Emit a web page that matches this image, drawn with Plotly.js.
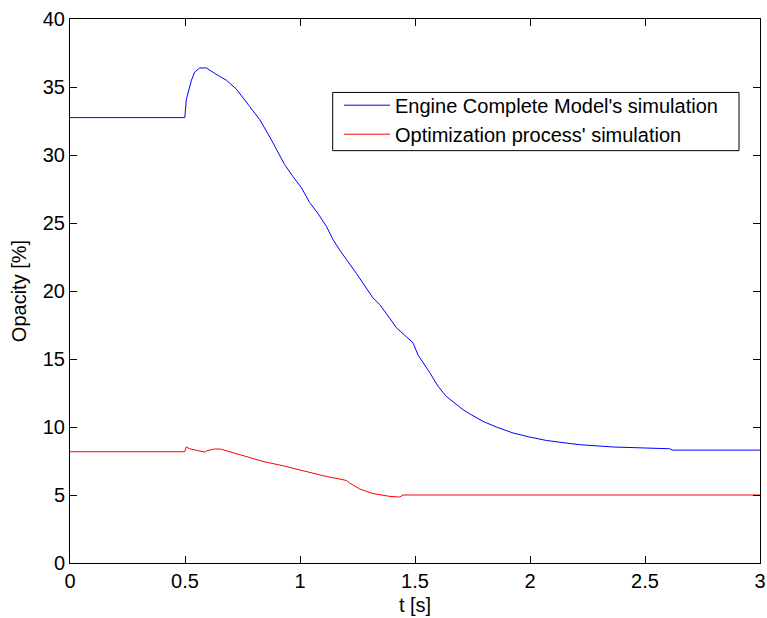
<!DOCTYPE html>
<html>
<head>
<meta charset="utf-8">
<script src="https://cdn.plot.ly/plotly-3.0.1.min.js"></script>
<style>
html,body{margin:0;padding:0;background:#fff;}
#chart{width:767px;height:618px;}
</style>
</head>
<body>
<div id="chart"></div>
<script>
// Engine Complete Model's simulation (blue)
var engineT = [0, 0.499, 0.506, 0.528, 0.542, 0.564, 0.593, 0.629, 0.680, 0.723, 0.781, 0.825, 0.876, 0.912, 0.933, 0.970, 1.006, 1.042, 1.078, 1.115, 1.143, 1.173, 1.245, 1.317, 1.347, 1.39, 1.419, 1.491, 1.513, 1.564, 1.600, 1.636, 1.672, 1.709, 1.745, 1.796, 1.854, 1.926, 1.999, 2.071, 2.158, 2.216, 2.361, 2.607, 2.62, 3.0];
var engineOpacity = [32.75, 32.75, 34.1, 35.5, 36.1, 36.4, 36.4, 36.0, 35.5, 34.85, 33.57, 32.6, 31.1, 30.0, 29.3, 28.4, 27.6, 26.5, 25.7, 24.75, 23.8, 23.0, 21.3, 19.5, 19.0, 18.0, 17.3, 16.2, 15.3, 14.0, 13.0, 12.25, 11.76, 11.27, 10.9, 10.41, 10.0, 9.56, 9.26, 9.01, 8.82, 8.7, 8.53, 8.4, 8.3, 8.3];

// Optimization process' simulation (red)
var optimT = [0, 0.499, 0.505, 0.52, 0.55, 0.586, 0.60, 0.629, 0.654, 0.694, 0.767, 0.839, 0.926, 1.013, 1.10, 1.202, 1.216, 1.26, 1.317, 1.39, 1.433, 1.448, 3.0];
var optimOpacity = [8.18, 8.18, 8.53, 8.4, 8.28, 8.16, 8.28, 8.38, 8.38, 8.18, 7.84, 7.47, 7.15, 6.79, 6.42, 6.07, 5.88, 5.44, 5.1, 4.9, 4.85, 5.0, 5.0];

var seriesNames = ["Engine Complete Model's simulation", "Optimization process' simulation"];
var xTicks = [0, 0.5, 1, 1.5, 2, 2.5, 3];
var xTickText = ["0", "0.5", "1", "1.5", "2", "2.5", "3"];
var yTicks = [0, 5, 10, 15, 20, 25, 30, 35, 40];

var font = "Liberation Sans, Arial, sans-serif";

var traces = [
  {x: engineT, y: engineOpacity, mode: 'lines', name: seriesNames[0], line: {color: '#0000ff', width: 1}},
  {x: optimT, y: optimOpacity, mode: 'lines', name: seriesNames[1], line: {color: '#ff0000', width: 1}}
];

var axisCommon = {
  showgrid: false, zeroline: false, showline: true, linecolor: '#000', linewidth: 1,
  mirror: 'ticks', ticks: 'inside', ticklen: 7, tickcolor: '#000', tickwidth: 1,
  tickfont: {family: font, size: 20, color: '#000'}
};

var layout = {
  width: 767, height: 618,
  margin: {l: 70, r: 7, t: 19, b: 55},
  paper_bgcolor: '#fff', plot_bgcolor: '#fff',
  font: {family: font, size: 20, color: '#000'},
  showlegend: true,
  xaxis: Object.assign({}, axisCommon, {
    range: [0, 3], tickvals: xTicks, ticktext: xTickText,
    title: {text: 't [s]', font: {family: font, size: 20, color: '#000'}, standoff: 6}
  }),
  yaxis: Object.assign({}, axisCommon, {
    range: [0, 40], tickvals: yTicks,
    title: {text: 'Opacity [%]', font: {family: font, size: 20, color: '#000'}, standoff: 10}
  }),
  shapes: [{
    type: 'rect', xref: 'paper', yref: 'paper',
    x0: 0.3807, x1: 0.9696, y0: 0.758, y1: 0.865,
    line: {color: '#000', width: 1}, fillcolor: '#fff', layer: 'above'
  }],
  legend: {
    x: 0.3899, y: 0.8774, xanchor: 'left', yanchor: 'top',
    bgcolor: 'rgba(0,0,0,0)', borderwidth: 0, itemwidth: 46,
    font: {family: font, size: 20, color: '#000'}
  }
};

Plotly.newPlot('chart', traces, layout, {displayModeBar: false, staticPlot: true});
</script>
</body>
</html>
